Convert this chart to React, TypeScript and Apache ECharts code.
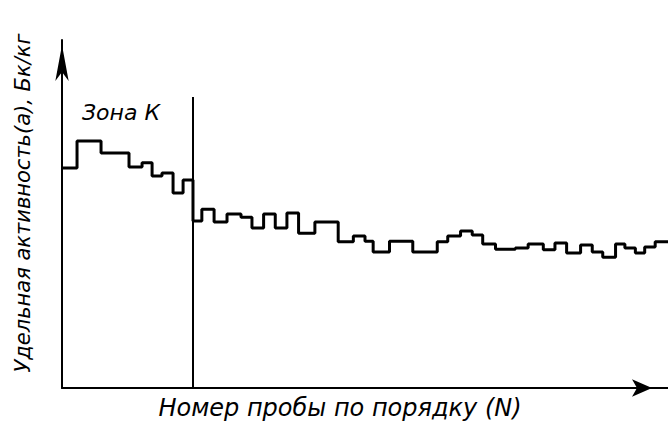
import React, { useEffect, useRef } from "react";
import * as echarts from "echarts";

// Sample number (start of each step) and specific activity (relative units)
const sampleN = [0, 1.29, 3.35, 5.75, 6.87, 7.73, 8.58, 9.53, 10.39, 11.24, 12.0, 13.05, 14.16, 15.36, 16.3, 17.3, 18.3, 19.3, 20.3, 21.7, 23.7, 25.0, 26.0, 26.7, 28.1, 30.1, 32.2, 33.1, 34.2, 35.2, 36.1, 37.2, 38.9, 40.0, 41.3, 42.3, 43.3, 44.5, 45.5, 46.4, 47.5, 48.3, 49.2, 50.0, 50.9, 52.0];
const activity = [63.2, 71.0, 67.5, 63.5, 64.7, 60.9, 61.8, 56.0, 59.8, 48.0, 51.4, 47.7, 50.0, 49.1, 46.0, 50.0, 46.0, 50.3, 44.5, 47.7, 42.0, 43.7, 42.2, 39.1, 42.2, 39.1, 42.0, 43.7, 45.1, 44.0, 41.4, 39.9, 40.2, 41.4, 39.7, 41.7, 38.8, 41.1, 39.1, 37.6, 41.4, 40.2, 38.8, 40.5, 42.0, 42.0];

// Zone K boundary
const zoneBoundaryN = 11.24;
const zoneBoundaryTop = 83.6;

const zoneLabel = "Зона К";
const xTitle = "Номер пробы по порядку (N)";
const yTitle = "Удельная активность(а), Бк/кг";

export default function App() {
  const ref = useRef<HTMLDivElement>(null);
  useEffect(() => {
    if (!ref.current) return;
    const chart = echarts.init(ref.current, null, { renderer: "svg" });
    const font = "DejaVu Sans";
    chart.setOption({
      animation: false,
      backgroundColor: "#ffffff",
      grid: { left: 62, right: 0, top: 40, bottom: 43 },
      xAxis: {
        type: "value",
        min: 0,
        max: 52,
        axisLine: {
          show: true,
          lineStyle: { color: "#000", width: 2 },
          symbol: ["none", "arrow"],
          symbolSize: [13, 20],
          symbolOffset: [0, -16],
        },
        axisTick: { show: false },
        axisLabel: { show: false },
        splitLine: { show: false },
      },
      yAxis: {
        type: "value",
        min: 0,
        max: 100,
        axisLine: {
          show: true,
          lineStyle: { color: "#000", width: 2 },
          symbol: ["none", "arrow"],
          symbolSize: [10, 36],
          symbolOffset: [0, -5],
        },
        axisTick: { show: false },
        axisLabel: { show: false },
        splitLine: { show: false },
      },
      series: [
        {
          type: "line",
          step: "end",
          data: sampleN.map((n, i) => [n, activity[i]]),
          symbol: "none",
          lineStyle: { color: "#000", width: 3 },
          markLine: {
            silent: true,
            symbol: ["none", "none"],
            label: { show: false },
            lineStyle: { color: "#000", width: 2, type: "solid" },
            data: [
              [
                { coord: [zoneBoundaryN, 0] },
                { coord: [zoneBoundaryN, zoneBoundaryTop] },
              ],
            ],
          },
        },
      ],
      graphic: [
        {
          type: "text",
          left: 82,
          top: 101,
          style: {
            text: zoneLabel,
            font: `italic 22px "${font}"`,
            fill: "#000",
          },
        },
        {
          type: "text",
          x: 340,
          y: 408,
          style: {
            text: xTitle,
            font: `italic 24px "${font}"`,
            fill: "#000",
            textAlign: "center",
            textVerticalAlign: "middle",
          },
        },
        {
          type: "text",
          x: 23,
          y: 203,
          rotation: Math.PI / 2,
          style: {
            text: yTitle,
            font: `italic 21px "${font}"`,
            fill: "#000",
            textAlign: "center",
            textVerticalAlign: "middle",
          },
        },
      ],
    });
    return () => chart.dispose();
  }, []);
  return (
    <div
      ref={ref}
      style={{ position: "absolute", left: 0, top: 0, width: 668, height: 431 }}
    />
  );
}
